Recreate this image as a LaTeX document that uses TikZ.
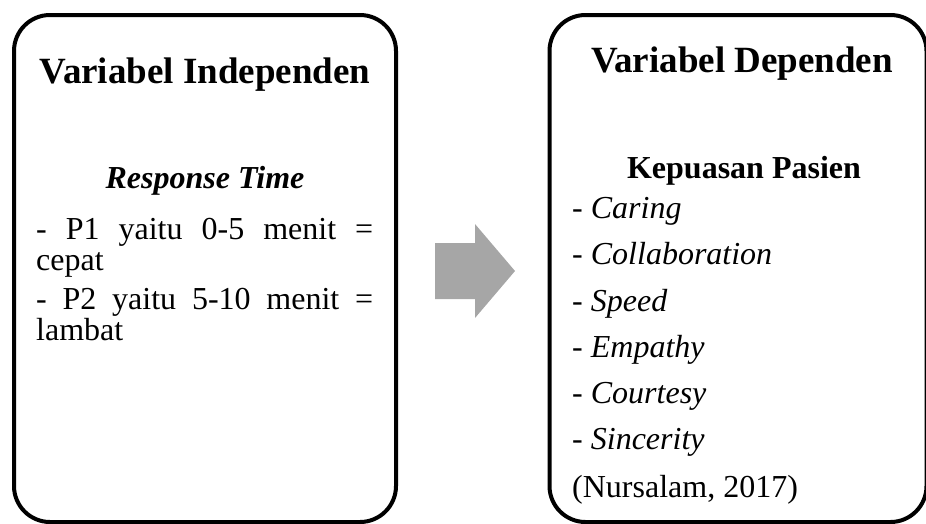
\documentclass[tikz,border=0pt]{standalone}
\usepackage{fontspec}
\setmainfont{Liberation Serif}
\usepackage{tikz}

\begin{document}
\begin{tikzpicture}[x=1pt,y=-1pt,
  varbox/.style={draw=boxcolor,line width=4pt,rounded corners=36pt,inner sep=0pt},
  headtext/.style={anchor=base,inner sep=0pt,font=\fontsize{37}{40}\selectfont\bfseries},
  subtext/.style={anchor=base,inner sep=0pt,font=\fontsize{32}{35}\selectfont\bfseries},
  itemtext/.style={anchor=base west,inner sep=0pt,font=\fontsize{32}{35}\selectfont}]
\definecolor{boxcolor}{RGB}{0,0,0}
\definecolor{arrowcolor}{RGB}{166,166,166}
\useasboundingbox (0,0) rectangle (926,523);
\node[varbox,minimum width=382pt,minimum height=507pt] (indep) at (205,268.5) {};
\node[varbox,minimum width=377pt,minimum height=507pt] (dep) at (738,268.5) {};
\fill[arrowcolor] (435,243) -- (475,243) -- (475,224) -- (515,271) -- (475,318) -- (475,299) -- (435,299) -- cycle;
\node[headtext] (indtitle) at (205,83) {Variabel Independen};
\node[subtext] (rtime) at (205,188) {\itshape Response Time};
\node[itemtext] (pone) at (36,239) {\makebox[337pt][s]{- P1 yaitu 0-5 menit =}};
\node[itemtext] (ponetail) at (36,270) {cepat};
\node[itemtext] (ptwo) at (36,309) {\makebox[337pt][s]{- P2 yaitu 5-10 menit =}};
\node[itemtext] (ptwotail) at (36,340) {lambat};
\node[headtext] (deptitle) at (742,72) {Variabel Dependen};
\node[subtext] (kepuasan) at (744,178) {Kepuasan Pasien};
\node[itemtext] (caring) at (572,218) {- \textit{Caring}};
\node[itemtext] (collab) at (572,264) {- \textit{Collaboration}};
\node[itemtext] (speed) at (572,311) {- \textit{Speed}};
\node[itemtext] (empathy) at (572,357) {- \textit{Empathy}};
\node[itemtext] (courtesy) at (572,403) {- \textit{Courtesy}};
\node[itemtext] (sincerity) at (572,449) {- \textit{Sincerity}};
\node[itemtext] (source) at (572,497) {(Nursalam, 2017)};
\end{tikzpicture}
\end{document}
